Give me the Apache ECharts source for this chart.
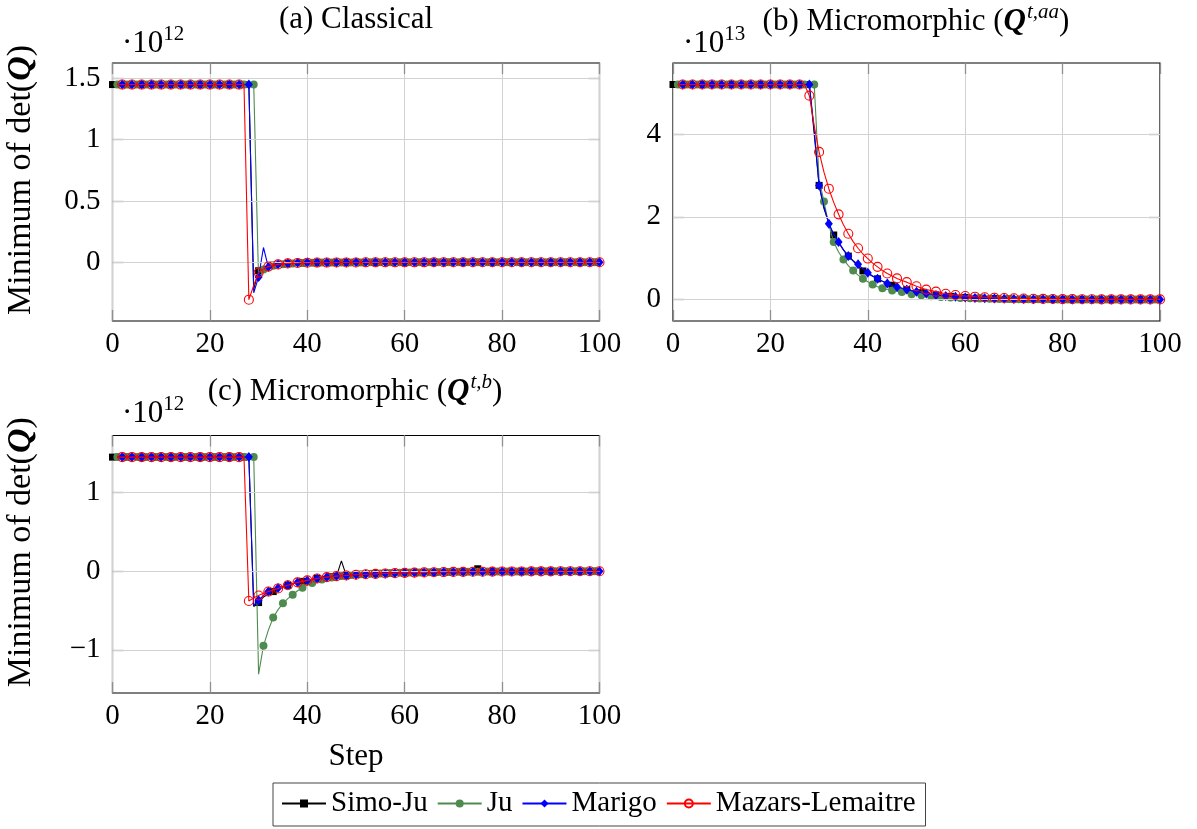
<!DOCTYPE html>
<html>
<head>
<meta charset="utf-8">
<script src="https://cdn.jsdelivr.net/npm/echarts@6/dist/echarts.min.js"></script>
<style>
  html, body { margin: 0; padding: 0; background: #fff; }
  #chart { width: 1197px; height: 829px; }
</style>
</head>
<body>
<div id="chart"></div>
<script>
// Load step index (x axis)
const steps = Array.from({ length: 101 }, (_, i) => i);
const seriesNames = ['Simo-Ju', 'Ju', 'Marigo', 'Mazars-Lemaitre'];
const stepTicks = [0, 20, 40, 60, 80, 100];
const classicalTicks = [0, 0.5, 1, 1.5];
const microAaTicks = [0, 2, 4];
const microBTicks = [-1, 0, 1];

// (a) Classical — minimum of det(Q), in units of 1e12
const classicalSimoJu = [
  1.45, 1.45, 1.45, 1.45, 1.45, 1.45, 1.45, 1.45, 1.45, 1.45,
  1.45, 1.45, 1.45, 1.45, 1.45, 1.45, 1.45, 1.45, 1.45, 1.45,
  1.45, 1.45, 1.45, 1.45, 1.45, 1.45, 1.45, 1.45, 1.45, -0.22,
  -0.07, -0.045, -0.032, -0.024, -0.018, -0.014, -0.011, -0.009, -0.007, -0.006,
  -0.005, -0.004, -0.004, -0.003, -0.003, -0.003, -0.002, -0.002, -0.002, -0.002,
  -0.002, -0.002, -0.001, -0.001, -0.001, -0.001, -0.001, -0.001, -0.001, -0.001,
  -0.001, -0.001, -0.001, -0.001, -0.001, -0.001, 0, 0, 0, 0,
  0, 0, 0, 0, 0, 0, 0, 0, 0, 0,
  0, 0, 0, 0, 0, 0, 0, 0, 0, 0,
  0, 0, 0, 0, 0, 0, 0, 0, 0, 0,
  0
];
const classicalJu = [
  null, 1.45, 1.45, 1.45, 1.45, 1.45, 1.45, 1.45, 1.45, 1.45,
  1.45, 1.45, 1.45, 1.45, 1.45, 1.45, 1.45, 1.45, 1.45, 1.45,
  1.45, 1.45, 1.45, 1.45, 1.45, 1.45, 1.45, 1.45, 1.45, 1.45,
  -0.15, -0.06, -0.04, -0.03, -0.022, -0.017, -0.013, -0.01, -0.008, -0.007,
  -0.005, -0.004, -0.004, -0.003, -0.003, -0.003, -0.002, -0.002, -0.002, -0.002,
  -0.002, -0.002, -0.001, -0.001, -0.001, -0.001, -0.001, -0.001, -0.001, -0.001,
  -0.001, -0.001, -0.001, -0.001, -0.001, -0.001, 0, 0, 0, 0,
  0, 0, 0, 0, 0, 0, 0, 0, 0, 0,
  0, 0, 0, 0, 0, 0, 0, 0, 0, 0,
  0, 0, 0, 0, 0, 0, 0, 0, 0, 0,
  0
];
const classicalMarigo = [
  null, 1.45, 1.45, 1.45, 1.45, 1.45, 1.45, 1.45, 1.45, 1.45,
  1.45, 1.45, 1.45, 1.45, 1.45, 1.45, 1.45, 1.45, 1.45, 1.45,
  1.45, 1.45, 1.45, 1.45, 1.45, 1.45, 1.45, 1.45, 1.45, -0.25,
  -0.12, 0.12, -0.04, -0.026, -0.017, -0.012, -0.009, -0.007, -0.005, -0.004,
  -0.003, -0.003, -0.003, -0.002, -0.002, -0.002, -0.002, -0.002, -0.002, -0.001,
  -0.001, -0.001, -0.001, -0.001, -0.001, -0.001, -0.001, -0.001, -0.001, -0.001,
  -0.001, -0.001, -0.001, -0.001, -0.001, -0.001, 0, 0, 0, 0,
  0, 0, 0, 0, 0, 0, 0, 0, 0, 0,
  0, 0, 0, 0, 0, 0, 0, 0, 0, 0,
  0, 0, 0, 0, 0, 0, 0, 0, 0, 0,
  0
];
const classicalMazars = [
  null, 1.45, 1.45, 1.45, 1.45, 1.45, 1.45, 1.45, 1.45, 1.45,
  1.45, 1.45, 1.45, 1.45, 1.45, 1.45, 1.45, 1.45, 1.45, 1.45,
  1.45, 1.45, 1.45, 1.45, 1.45, 1.45, 1.45, 1.45, -0.306, -0.19,
  -0.085, -0.055, -0.036, -0.026, -0.018, -0.013, -0.01, -0.008, -0.006, -0.005,
  -0.004, -0.004, -0.003, -0.003, -0.003, -0.002, -0.002, -0.002, -0.002, -0.002,
  -0.002, -0.002, -0.001, -0.001, -0.001, -0.001, -0.001, -0.001, -0.001, -0.001,
  -0.001, -0.001, -0.001, -0.001, -0.001, -0.001, 0, 0, 0, 0,
  0, 0, 0, 0, 0, 0, 0, 0, 0, 0,
  0, 0, 0, 0, 0, 0, 0, 0, 0, 0,
  0, 0, 0, 0, 0, 0, 0, 0, 0, 0,
  0
];

// (b) Micromorphic Q^{t,aa} — in units of 1e13
const microAaSimoJu = [
  5.2, 5.2, 5.2, 5.2, 5.2, 5.2, 5.2, 5.2, 5.2, 5.2,
  5.2, 5.2, 5.2, 5.2, 5.2, 5.2, 5.2, 5.2, 5.2, 5.2,
  5.2, 5.2, 5.2, 5.2, 5.2, 5.2, 5.2, 5.2, 5.2, 4.0,
  2.76, 2.2, 1.84, 1.56, 1.38, 1.2, 1.05, 0.93, 0.8, 0.69,
  0.63, 0.56, 0.5, 0.44, 0.39, 0.345, 0.3, 0.27, 0.24, 0.215,
  0.19, 0.165, 0.145, 0.128, 0.11, 0.098, 0.086, 0.076, 0.066, 0.058,
  0.05, 0.044, 0.039, 0.034, 0.03, 0.026, 0.023, 0.02, 0.018, 0.016,
  0.014, 0.012, 0.011, 0.01, 0.009, 0.008, 0.007, 0.006, 0.005, 0.005,
  0.004, 0.004, 0.003, 0.003, 0.003, 0.002, 0.002, 0.002, 0.002, 0.002,
  0.001, 0.001, 0.001, 0.001, 0.001, 0.001, 0.001, 0.001, 0.001, 0.001,
  0.001
];
const microAaJu = [
  null, 5.2, 5.2, 5.2, 5.2, 5.2, 5.2, 5.2, 5.2, 5.2,
  5.2, 5.2, 5.2, 5.2, 5.2, 5.2, 5.2, 5.2, 5.2, 5.2,
  5.2, 5.2, 5.2, 5.2, 5.2, 5.2, 5.2, 5.2, 5.2, 5.2,
  2.9, 2.37, 1.8, 1.39, 1.15, 0.97, 0.82, 0.7, 0.59, 0.5,
  0.43, 0.36, 0.31, 0.27, 0.24, 0.22, 0.2, 0.18, 0.155, 0.13,
  0.115, 0.1, 0.088, 0.077, 0.068, 0.06, 0.053, 0.047, 0.041, 0.036,
  0.032, 0.028, 0.025, 0.022, 0.019, 0.017, 0.015, 0.013, 0.012, 0.01,
  0.009, 0.008, 0.007, 0.006, 0.006, 0.005, 0.004, 0.004, 0.004, 0.003,
  0.003, 0.003, 0.002, 0.002, 0.002, 0.002, 0.002, 0.002, 0.002, 0.002,
  0.001, 0.001, 0.001, 0.001, 0.001, 0.001, 0.001, 0.001, 0.001, 0.001,
  0.001
];
const microAaMarigo = [
  null, 5.2, 5.2, 5.2, 5.2, 5.2, 5.2, 5.2, 5.2, 5.2,
  5.2, 5.2, 5.2, 5.2, 5.2, 5.2, 5.2, 5.2, 5.2, 5.2,
  5.2, 5.2, 5.2, 5.2, 5.2, 5.2, 5.2, 5.2, 5.2, 4.1,
  2.76, 2.25, 1.83, 1.58, 1.39, 1.2, 1.05, 0.94, 0.85, 0.74,
  0.65, 0.57, 0.5, 0.44, 0.39, 0.34, 0.3, 0.27, 0.24, 0.215,
  0.19, 0.165, 0.145, 0.128, 0.11, 0.098, 0.086, 0.076, 0.066, 0.058,
  0.05, 0.044, 0.039, 0.034, 0.03, 0.026, 0.023, 0.02, 0.018, 0.016,
  0.014, 0.012, 0.011, 0.01, 0.009, 0.008, 0.007, 0.006, 0.005, 0.005,
  0.004, 0.004, 0.003, 0.003, 0.003, 0.002, 0.002, 0.002, 0.002, 0.002,
  0.001, 0.001, 0.001, 0.001, 0.001, 0.001, 0.001, 0.001, 0.001, 0.001,
  0.001
];
const microAaMazars = [
  null, 5.2, 5.2, 5.2, 5.2, 5.2, 5.2, 5.2, 5.2, 5.2,
  5.2, 5.2, 5.2, 5.2, 5.2, 5.2, 5.2, 5.2, 5.2, 5.2,
  5.2, 5.2, 5.2, 5.2, 5.2, 5.2, 5.2, 5.2, 4.93, 4.2,
  3.57, 3.08, 2.68, 2.35, 2.06, 1.81, 1.59, 1.4, 1.24, 1.1,
  0.99, 0.88, 0.79, 0.7, 0.63, 0.57, 0.51, 0.46, 0.42, 0.37,
  0.32, 0.28, 0.24, 0.215, 0.19, 0.165, 0.14, 0.125, 0.11, 0.095,
  0.085, 0.076, 0.068, 0.061, 0.055, 0.049, 0.044, 0.04, 0.036, 0.032,
  0.029, 0.026, 0.023, 0.021, 0.019, 0.017, 0.015, 0.014, 0.012, 0.011,
  0.01, 0.009, 0.008, 0.007, 0.007, 0.006, 0.005, 0.005, 0.004, 0.004,
  0.004, 0.003, 0.003, 0.003, 0.003, 0.002, 0.002, 0.002, 0.002, 0.002,
  0.002
];

// (c) Micromorphic Q^{t,b} — in units of 1e12
const microBSimoJu = [
  1.45, 1.45, 1.45, 1.45, 1.45, 1.45, 1.45, 1.45, 1.45, 1.45,
  1.45, 1.45, 1.45, 1.45, 1.45, 1.45, 1.45, 1.45, 1.45, 1.45,
  1.45, 1.45, 1.45, 1.45, 1.45, 1.45, 1.45, 1.45, 1.45, -0.45,
  -0.4, -0.33, -0.29, -0.26, -0.23, -0.2, -0.18, -0.16, -0.145, -0.13,
  -0.118, -0.105, -0.094, -0.085, -0.077, -0.07, -0.064, 0.13, -0.054, -0.05,
  -0.046, -0.043, -0.04, -0.037, -0.035, -0.032, -0.03, -0.028, -0.026, -0.024,
  -0.022, -0.02, -0.019, -0.017, -0.016, -0.015, -0.014, -0.013, -0.012, -0.011,
  -0.01, -0.009, -0.009, -0.008, -0.008, 0.03, -0.007, -0.006, -0.006, -0.005,
  -0.005, -0.005, -0.004, -0.004, -0.004, -0.004, -0.003, -0.003, -0.003, -0.003,
  -0.003, -0.003, -0.002, -0.002, -0.002, -0.002, -0.002, -0.002, -0.002, -0.002,
  -0.002
];
const microBJu = [
  null, 1.45, 1.45, 1.45, 1.45, 1.45, 1.45, 1.45, 1.45, 1.45,
  1.45, 1.45, 1.45, 1.45, 1.45, 1.45, 1.45, 1.45, 1.45, 1.45,
  1.45, 1.45, 1.45, 1.45, 1.45, 1.45, 1.45, 1.45, 1.45, 1.45,
  -1.31, -0.95, -0.75, -0.59, -0.49, -0.41, -0.35, -0.3, -0.25, -0.21,
  -0.18, -0.15, -0.125, -0.105, -0.09, -0.08, -0.07, -0.063, -0.056, -0.05,
  -0.045, -0.041, -0.037, -0.034, -0.031, -0.029, -0.027, -0.025, -0.023, -0.021,
  -0.02, -0.018, -0.017, -0.016, -0.015, -0.014, -0.013, -0.012, -0.011, -0.01,
  -0.009, -0.009, -0.008, -0.008, -0.007, -0.007, -0.006, -0.006, -0.005, -0.005,
  -0.005, -0.005, -0.004, -0.004, -0.004, -0.004, -0.003, -0.003, -0.003, -0.003,
  -0.003, -0.003, -0.002, -0.002, -0.002, -0.002, -0.002, -0.002, -0.002, -0.002,
  -0.002
];
const microBMarigo = [
  null, 1.45, 1.45, 1.45, 1.45, 1.45, 1.45, 1.45, 1.45, 1.45,
  1.45, 1.45, 1.45, 1.45, 1.45, 1.45, 1.45, 1.45, 1.45, 1.45,
  1.45, 1.45, 1.45, 1.45, 1.45, 1.45, 1.45, 1.45, 1.45, -0.44,
  -0.37, -0.31, -0.26, -0.235, -0.215, -0.195, -0.177, -0.16, -0.143, -0.13,
  -0.118, -0.105, -0.093, -0.084, -0.076, -0.069, -0.063, -0.059, -0.055, -0.05,
  -0.046, -0.043, -0.04, -0.037, -0.035, -0.032, -0.03, -0.028, -0.026, -0.024,
  -0.022, -0.02, -0.019, -0.017, -0.016, -0.015, -0.014, -0.013, -0.012, -0.011,
  -0.01, -0.009, -0.009, -0.008, -0.008, -0.007, -0.007, -0.006, -0.006, -0.005,
  -0.005, -0.005, -0.004, -0.004, -0.004, -0.004, -0.003, -0.003, -0.003, -0.003,
  -0.003, -0.003, -0.002, -0.002, -0.002, -0.002, -0.002, -0.002, -0.002, -0.002,
  -0.002
];
const microBMazars = [
  null, 1.45, 1.45, 1.45, 1.45, 1.45, 1.45, 1.45, 1.45, 1.45,
  1.45, 1.45, 1.45, 1.45, 1.45, 1.45, 1.45, 1.45, 1.45, 1.45,
  1.45, 1.45, 1.45, 1.45, 1.45, 1.45, 1.45, 1.45, -0.38, -0.34,
  -0.31, -0.28, -0.26, -0.24, -0.22, -0.2, -0.18, -0.16, -0.143, -0.13,
  -0.118, -0.105, -0.093, -0.084, -0.076, -0.069, -0.063, -0.059, -0.055, -0.05,
  -0.046, -0.043, -0.04, -0.037, -0.035, -0.032, -0.03, -0.028, -0.026, -0.024,
  -0.022, -0.02, -0.019, -0.017, -0.016, -0.015, -0.014, -0.013, -0.012, -0.011,
  -0.01, -0.009, -0.009, -0.008, -0.008, -0.007, -0.007, -0.006, -0.006, -0.005,
  -0.005, -0.005, -0.004, -0.004, -0.004, -0.004, -0.003, -0.003, -0.003, -0.003,
  -0.003, -0.003, -0.002, -0.002, -0.002, -0.002, -0.002, -0.002, -0.002, -0.002,
  -0.002
];

const SERIF = "'Liberation Serif', 'DejaVu Serif', serif";

// Per-method line/marker look; markers are shown on a subset of steps
const methodStyle = {
  'Simo-Ju':         { color: '#000000', symbol: 'rect',    size: [7, 7],  fill: '#000000', marked: s => s % 3 === 0 },
  'Ju':              { color: '#4f8a4f', symbol: 'circle',  size: 8,       fill: '#4f8a4f', marked: s => s % 2 === 1 },
  'Marigo':          { color: '#0000ff', symbol: 'diamond', size: [8, 10], fill: '#0000ff', marked: s => s % 2 === 0 && s > 0 },
  'Mazars-Lemaitre': { color: '#ff0000', symbol: 'circle',  size: 9,       fill: 'rgba(255,255,255,0)', marked: s => s % 2 === 0 && s > 0 }
};

const panels = [
  { grid: { left: 112.5, top: 63, width: 487, height: 258 }, yMin: -0.48, yMax: 1.626, yTicks: classicalTicks,
    values: [classicalSimoJu, classicalJu, classicalMarigo, classicalMazars], yName: true, xName: false },
  { grid: { left: 673, top: 63, width: 487, height: 258 }, yMin: -0.52, yMax: 5.72, yTicks: microAaTicks,
    values: [microAaSimoJu, microAaJu, microAaMarigo, microAaMazars], yName: false, xName: false },
  { grid: { left: 112.5, top: 435.5, width: 487, height: 257.5 }, yMin: -1.55, yMax: 1.725, yTicks: microBTicks,
    values: [microBSimoJu, microBJu, microBMarigo, microBMazars], yName: true, xName: true }
];

const tickLabelStyle = { fontFamily: SERIF, fontSize: 29, color: '#000' };
const gridLine = { show: true, lineStyle: { color: '#d2d2d2', width: 1 } };
const innerTick = vals => ({ show: true, inside: true, length: 11, customValues: vals,
  lineStyle: { color: '#8f8f8f', width: 1.3 } });
const fmtNum = v => (v < 0 ? '\u2212' + String(Math.abs(v)) : String(v));

const grids = [], xAxes = [], yAxes = [], series = [];

panels.forEach((p, pi) => {
  grids.push(Object.assign({ show: true, borderColor: '#000', borderWidth: 1.2, backgroundColor: 'transparent' }, p.grid));
  // bottom axis (labelled) and top axis (ticks only)
  xAxes.push({
    gridIndex: pi, type: 'value', position: 'bottom', min: 0, max: 100, interval: 20,
    axisLine: { show: false, onZero: false }, axisTick: innerTick(stepTicks), splitLine: gridLine,
    axisLabel: Object.assign({ margin: 9, customValues: stepTicks, formatter: fmtNum }, tickLabelStyle),
    name: p.xName ? 'Step' : '', nameLocation: 'middle', nameGap: 48,
    nameTextStyle: { fontFamily: SERIF, fontSize: 31, color: '#000' }
  });
  xAxes.push({
    gridIndex: pi, type: 'value', position: 'top', min: 0, max: 100, interval: 20,
    axisLine: { show: false, onZero: false }, axisTick: innerTick(stepTicks), splitLine: { show: false },
    axisLabel: { show: false }
  });
  // left axis (labelled) and right axis (ticks only); grid lines come from markLine below
  yAxes.push({
    gridIndex: pi, type: 'value', position: 'left', min: p.yMin, max: p.yMax,
    axisLine: { show: false, onZero: false }, axisTick: innerTick(p.yTicks),
    splitLine: { show: false },
    axisLabel: Object.assign({ margin: 12, customValues: p.yTicks, formatter: fmtNum }, tickLabelStyle),
    name: p.yName ? 'Minimum of det({q|Q})' : '', nameLocation: 'middle', nameGap: 74, nameRotate: 90,
    nameTextStyle: {
      fontFamily: SERIF, fontSize: 34, color: '#000', padding: [0, 0, 0, 24],
      rich: { q: { fontFamily: SERIF, fontSize: 34, fontWeight: 'bold', fontStyle: 'italic', color: '#000' } }
    }
  });
  yAxes.push({
    gridIndex: pi, type: 'value', position: 'right', min: p.yMin, max: p.yMax,
    axisLine: { show: false, onZero: false }, axisTick: innerTick(p.yTicks), splitLine: { show: false },
    axisLabel: { show: false }
  });

  // Horizontal grid lines at the labelled y ticks only
  series.push({
    type: 'line', xAxisIndex: pi * 2, yAxisIndex: pi * 2, data: [], silent: true, z: 1,
    markLine: {
      silent: true, symbol: 'none', label: { show: false }, animation: false,
      lineStyle: { color: '#d2d2d2', width: 1, type: 'solid' },
      emphasis: { disabled: true },
      data: p.yTicks.map(v => ({ yAxis: v }))
    }
  });

  seriesNames.forEach((name, si) => {
    const st = methodStyle[name];
    const vals = p.values[si];
    series.push({
      name, type: 'line', xAxisIndex: pi * 2, yAxisIndex: pi * 2,
      data: steps.map((s, i) => [s, vals[i]]),
      showSymbol: true, showAllSymbol: true,
      symbol: st.symbol,
      symbolSize: (val) => (st.marked(val[0]) ? st.size : 0),
      color: st.color,
      lineStyle: { color: st.color, width: 1.1 },
      itemStyle: { color: st.fill, borderColor: st.color, borderWidth: name === 'Mazars-Lemaitre' ? 1.1 : 0 },
      emphasis: { disabled: true },
      connectNulls: false,
      z: 2 + si
    });
  });
});

// Panel titles and scale factors
const supRich = {
  q: { fontFamily: SERIF, fontSize: 31, fontWeight: 'bold', fontStyle: 'italic', fill: '#000' },
  s: { fontFamily: SERIF, fontSize: 21, fontStyle: 'italic', fill: '#000', padding: [0, 0, 20, 1] },
  e: { fontFamily: SERIF, fontSize: 21, fill: '#000', padding: [0, 0, 20, 0] }
};
function label(x, y, text, align) {
  return {
    type: 'text', x, y, silent: true,
    style: {
      text, align: align || 'center', verticalAlign: 'middle',
      fontFamily: SERIF, fontSize: 31, fill: '#000', rich: supRich
    }
  };
}

const option = {
  animation: false,
  backgroundColor: '#fff',
  grid: grids,
  xAxis: xAxes,
  yAxis: yAxes,
  series,
  legend: {
    data: seriesNames,
    left: 273, top: 783,
    itemWidth: 44, itemHeight: 10, itemGap: 9,
    selectedMode: false,
    borderColor: '#444', borderWidth: 1, padding: [6, 10, 8, 8],
    textStyle: { fontFamily: SERIF, fontSize: 29, color: '#000' }
  },
  graphic: [
    label(356, 20, '(a) Classical'),
    label(916, 22, '(b) Micromorphic ({q|Q}{s|t,aa})'),
    label(355, 392, '(c) Micromorphic ({q|Q}{s|t,b})'),
    label(122, 44, '\u00b710{e|12}', 'left'),
    label(683, 44, '\u00b710{e|13}', 'left'),
    label(122, 414, '\u00b710{e|12}', 'left')
  ]
};

const chart = echarts.init(document.getElementById('chart'), null, { renderer: 'canvas' });
chart.setOption(option);
</script>
</body>
</html>
